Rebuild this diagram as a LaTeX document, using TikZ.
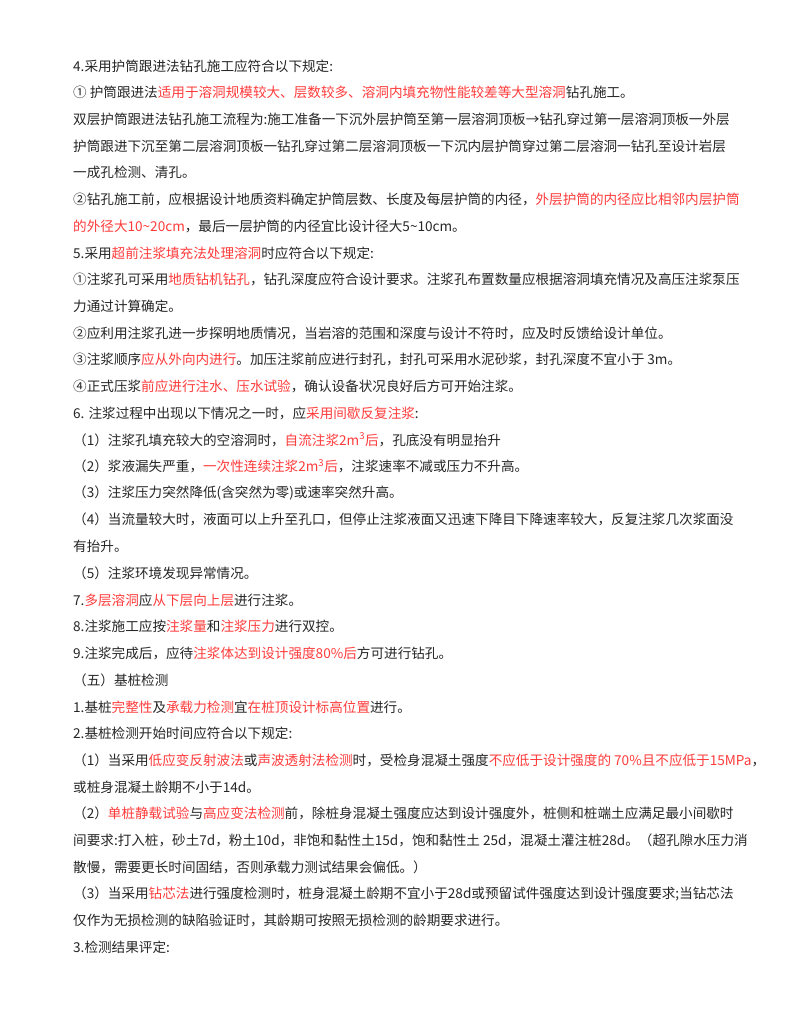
\documentclass[tikz,border=0pt]{standalone}
\usepackage{fontspec}
\setmainfont{Noto Sans CJK SC}
\usepackage{xcolor}
\definecolor{rd}{HTML}{FF3B3B}
\newcommand\rr[1]{\textcolor{rd}{#1}}
\begin{document}
\begin{tikzpicture}[x=1pt,y=-1pt,
  ln/.style={anchor=west,inner sep=0pt,font=\fontsize{13.6}{16}\selectfont,text=black!85}]
\useasboundingbox[fill=white] (0,0) rectangle (800,1035);
\def\g{26.7}
\def\s{66}
\node[ln] (l1) at (73,\s) {4.采用护筒跟进法钻孔施工应符合以下规定:};
\node[ln] (l2) at (73,\s+1*\g) {① 护筒跟进法\rr{适用于溶洞规模较大、层数较多、溶洞内填充物性能较差等大型溶洞}钻孔施工。};
\node[ln] (l3) at (73,\s+2*\g) {双层护筒跟进法钻孔施工流程为:施工准备一下沉外层护筒至第一层溶洞顶板→钻孔穿过第一层溶洞顶板一外层};
\node[ln] (l4) at (73,\s+3*\g) {护筒跟进下沉至第二层溶洞顶板一钻孔穿过第二层溶洞顶板一下沉内层护筒穿过第二层溶洞一钻孔至设计岩层};
\node[ln] (l5) at (73,\s+4*\g) {一成孔检测、清孔。};
\node[ln] (l6) at (73,\s+5*\g) {②钻孔施工前，应根据设计地质资料确定护筒层数、长度及每层护筒的内径，\rr{外层护筒的内径应比相邻内层护筒}};
\node[ln] (l7) at (73,\s+6*\g) {\rr{的外径大10\textasciitilde20cm}，最后一层护筒的内径宜比设计径大5\textasciitilde10cm。};
\node[ln] (l8) at (73,\s+7*\g) {5.采用\rr{超前注浆填充法处理溶洞}时应符合以下规定:};
\node[ln] (l9) at (73,\s+8*\g) {①注浆孔可采用\rr{地质钻机钻孔}，钻孔深度应符合设计要求。注浆孔布置数量应根据溶洞填充情况及高压注浆泵压};
\node[ln] (l10) at (73,\s+9*\g) {力通过计算确定。};
\node[ln] (l11) at (73,\s+10*\g) {②应利用注浆孔进一步探明地质情况，当岩溶的范围和深度与设计不符时，应及时反馈给设计单位。};
\node[ln] (l12) at (73,\s+11*\g) {③注浆顺序\rr{应从外向内进行}。加压注浆前应进行封孔，封孔可采用水泥砂浆，封孔深度不宜小于 3m。};
\node[ln] (l13) at (73,\s+12*\g) {④正式压浆\rr{前应进行注水、压水试验}，确认设备状况良好后方可开始注浆。};
\node[ln] (l14) at (73,\s+13*\g) {6. 注浆过程中出现以下情况之一时，应\rr{采用间歇反复注浆}:};
\node[ln] (l15) at (73,\s+14*\g) {（1）注浆孔填充较大的空溶洞时，\rr{自流注浆2m\textsuperscript{3}后}，孔底没有明显抬升};
\node[ln] (l16) at (73,\s+15*\g) {（2）浆液漏失严重，\rr{一次性连续注浆2m\textsuperscript{3}后}，注浆速率不减或压力不升高。};
\node[ln] (l17) at (73,\s+16*\g) {（3）注浆压力突然降低(含突然为零)或速率突然升高。};
\node[ln] (l18) at (73,\s+17*\g) {（4）当流量较大时，液面可以上升至孔口，但停止注浆液面又迅速下降目下降速率较大，反复注浆几次浆面没};
\node[ln] (l19) at (73,\s+18*\g) {有抬升。};
\node[ln] (l20) at (73,\s+19*\g) {（5）注浆环境发现异常情况。};
\node[ln] (l21) at (73,\s+20*\g) {7.\rr{多层溶洞}应\rr{从下层向上层}进行注浆。};
\node[ln] (l22) at (73,\s+21*\g) {8.注浆施工应按\rr{注浆量}和\rr{注浆压力}进行双控。};
\node[ln] (l23) at (73,\s+22*\g) {9.注浆完成后，应待\rr{注浆体达到设计强度80\%后}方可进行钻孔。};
\node[ln] (l24) at (73,\s+23*\g) {（五）基桩检测};
\node[ln] (l25) at (73,\s+24*\g) {1.基桩\rr{完整性}及\rr{承载力检测}宜\rr{在桩顶设计标高位置}进行。};
\node[ln] (l26) at (73,\s+25*\g) {2.基桩检测开始时间应符合以下规定:};
\node[ln] (l27) at (73,\s+26*\g) {（1）当采用\rr{低应变反射波法}或\rr{声波透射法检测}时，受检身混凝土强度\rr{不应低于设计强度的 70\%且不应低于15MPa}，};
\node[ln] (l28) at (73,\s+27*\g) {或桩身混凝土龄期不小于14d。};
\node[ln] (l29) at (73,\s+28*\g) {（2）\rr{单桩静载试验}与\rr{高应变法检测}前，除桩身混凝土强度应达到设计强度外，桩侧和桩端土应满足最小间歇时};
\node[ln] (l30) at (73,\s+29*\g) {间要求:打入桩，砂土7d，粉土10d，非饱和黏性土15d，饱和黏性土 25d，混凝土灌注桩28d。（超孔隙水压力消};
\node[ln] (l31) at (73,\s+30*\g) {散慢，需要更长时间固结，否则承载力测试结果会偏低。）};
\node[ln] (l32) at (73,\s+31*\g) {（3）当采用\rr{钻芯法}进行强度检测时，桩身混凝土龄期不宜小于28d或预留试件强度达到设计强度要求;当钻芯法};
\node[ln] (l33) at (73,\s+32*\g) {仅作为无损检测的缺陷验证时，其龄期可按照无损检测的龄期要求进行。};
\node[ln] (l34) at (73,\s+33*\g) {3.检测结果评定:};
\end{tikzpicture}
\end{document}
